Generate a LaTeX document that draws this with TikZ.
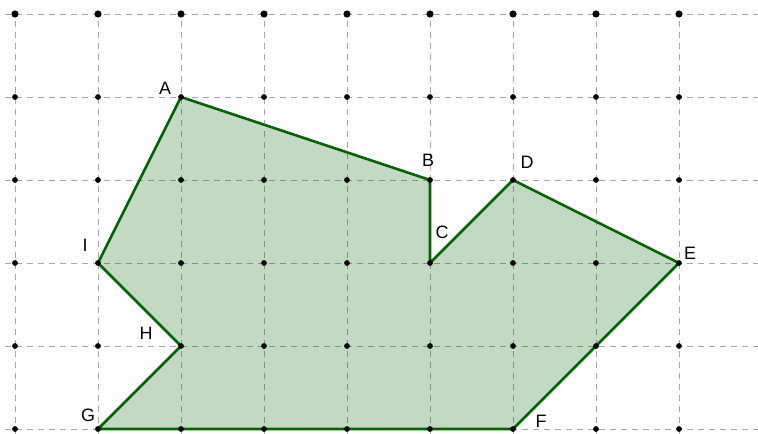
\documentclass[tikz,border=0pt]{standalone}
\usepackage{fontspec}
\setmainfont{Liberation Sans}
\usepackage{tikz}
\definecolor{polyline}{RGB}{0,100,0}

\begin{document}
\begin{tikzpicture}[
    x=83bp, y=83bp,
    gridline/.style={draw=gray!70, line width=0.8pt, dash pattern=on 6bp off 5bp},
    dot/.style={circle, fill=black, inner sep=0pt, minimum size=5.8bp},
    bigdot/.style={circle, fill=black, inner sep=0pt, minimum size=7.2bp},
    poly/.style={draw=polyline, fill=polyline, fill opacity=0.24, line width=2.6bp, line join=round},
    lbl/.style={font=\fontsize{18}{21}\selectfont, inner sep=0pt}
]
\useasboundingbox (-0.1807,-0.0602) rectangle (8.9518,5.1687);

% grid
\foreach \y in {0,...,5}
    \draw[gridline] (-0.12,\y) -- (8.9518,\y);
\foreach \x in {0,...,8}
    \draw[gridline] (\x,-0.0602) -- (\x,5);

% polygon corners
\coordinate (A) at (2,4);
\coordinate (B) at (5,3);
\coordinate (C) at (5,2);
\coordinate (D) at (6,3);
\coordinate (E) at (8,2);
\coordinate (F) at (6,0);
\coordinate (G) at (1,0);
\coordinate (H) at (2,1);
\coordinate (I) at (1,2);

\draw[poly, draw opacity=1] (A) -- (B) -- (C) -- (D) -- (E) -- (F) -- (G) -- (H) -- (I) -- cycle;

% grid dots
\foreach \x in {0,...,8} {
    \foreach \y in {0,...,4}
        \node[dot] (p\x\y) at (\x,\y) {};
    \node[bigdot] (p\x5) at (\x,5) {};
}

% labels
\node[lbl] (lA) at ([shift={(-16bp,9bp)}]A) {A};
\node[lbl] (lB) at ([shift={(-2bp,20bp)}]B) {B};
\node[lbl] (lC) at ([shift={(12bp,31bp)}]C) {C};
\node[lbl] (lD) at ([shift={(14bp,18bp)}]D) {D};
\node[lbl] (lE) at ([shift={(11bp,10bp)}]E) {E};
\node[lbl] (lF) at ([shift={(28bp,8bp)}]F) {F};
\node[lbl] (lG) at ([shift={(-10bp,14bp)}]G) {G};
\node[lbl] (lH) at ([shift={(-35bp,13bp)}]H) {H};
\node[lbl] (lI) at ([shift={(-13bp,18bp)}]I) {I};
\end{tikzpicture}
\end{document}
